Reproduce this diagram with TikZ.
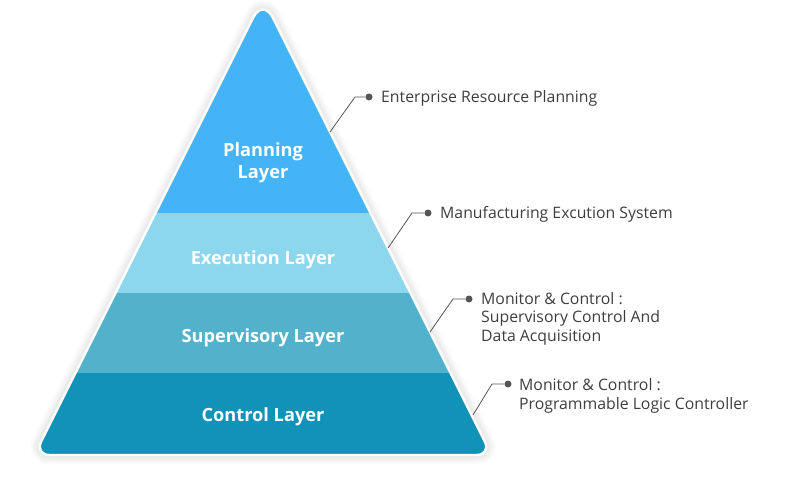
\documentclass[tikz,border=0pt]{standalone}
\usepackage{fontspec}
\setmainfont{Open Sans}
\usepackage{xcolor}
\usepackage{tikz}
\usetikzlibrary{positioning}

\definecolor{planC}{HTML}{45B3F7}
\definecolor{execC}{HTML}{8CD6EE}
\definecolor{superC}{HTML}{52B2CC}
\definecolor{ctrlC}{HTML}{1192B8}
\definecolor{noteC}{HTML}{3E3E3E}
\definecolor{leadC}{HTML}{555555}

\newcommand\pyrshape{(148.75,226.5) [rounded corners=22pt] -- (263,-2) [rounded corners=15pt] -- (491.5,455) -- (34.5,455) -- cycle}

\begin{document}
\begin{tikzpicture}[x=1pt, y=-1pt,
    layer/.style={text=white, align=center, font=\bfseries\fontsize{18.2}{22}\selectfont},
    note/.style={text=noteC, align=left, inner sep=0pt, font=\fontsize{15.8}{18.5}\selectfont},
    lead/.style={draw=leadC, line width=0.8pt},
    dot/.style={circle, fill=leadC, inner sep=0pt, minimum size=7pt}
  ]
    \useasboundingbox (0,0) rectangle (797,481);
    % soft shadow
    \foreach \w in {3,6,...,18}
      \draw[black, opacity=0.015, line width=\w pt, line join=round] \pyrshape;
    % layers
    \begin{scope}
      \clip \pyrshape;
      \fill[planC] (0,-10) rectangle (797,213);
      \fill[execC] (0,213) rectangle (797,293);
      \fill[superC] (0,293) rectangle (797,373);
      \fill[ctrlC] (0,373) rectangle (797,470);
    \end{scope}
    \draw[white, line width=2.4pt] \pyrshape;

    \node[layer] (plan) at (263,163) {Planning\\Layer};
    \node[layer] (exec) at (263,260) {Execution Layer};
    \node[layer] (super) at (263,338) {Supervisory Layer};
    \node[layer] (ctrl) at (263,417) {Control Layer};

    % leaders
    \coordinate (e1) at (330,132);
    \coordinate (k1) at (355,97);
    \node[dot] (d1) at (369,97) {};
    \node[note, anchor=west] (n1) at (381,98) {Enterprise Resource Planning};
    \draw[lead] (e1) -- (k1) -- (d1);

    \coordinate (e2) at (388,248);
    \coordinate (k2) at (412,213);
    \node[dot] (d2) at (428,213) {};
    \node[note, anchor=west] (n2) at (440,214) {Manufacturing Excution System};
    \draw[lead] (e2) -- (k2) -- (d2);

    \coordinate (e3) at (430,332);
    \coordinate (k3) at (453,299);
    \node[dot] (d3) at (469,299) {};
    \node[note, anchor=north west] (n3) at (481,292) {Monitor \& Control :\\Supervisory Control And\\Data Acquisition};
    \draw[lead] (e3) -- (k3) -- (d3);

    \coordinate (e4) at (473,415);
    \coordinate (k4) at (492,384);
    \node[dot] (d4) at (508,384) {};
    \node[note, anchor=north west, font=\fontsize{15.8}{19.5}\selectfont] (n4) at (519,378) {Monitor \& Control :\\Programmable Logic Controller};
    \draw[lead] (e4) -- (k4) -- (d4);
  \end{tikzpicture}
\end{document}
